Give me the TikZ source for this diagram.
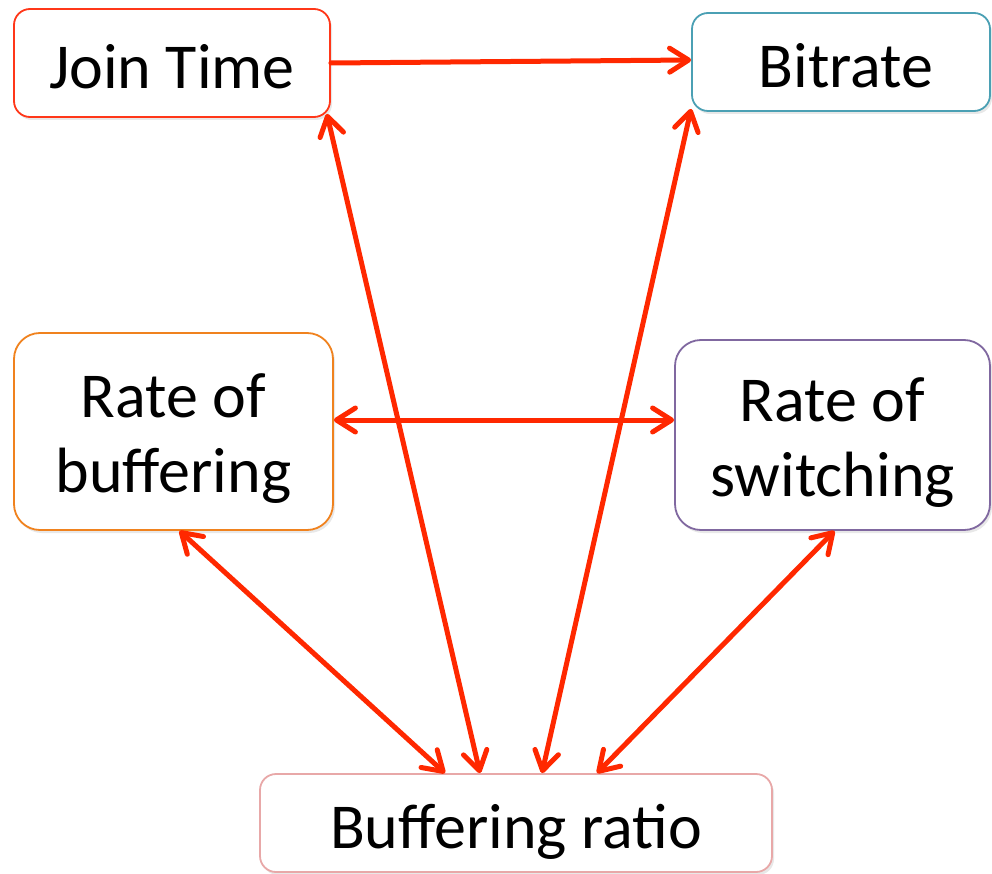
\documentclass[tikz,border=0pt]{standalone}
\usepackage{fontspec}
\setmainfont{Carlito}
\usetikzlibrary{arrows.meta,shadows}
\definecolor{arrred}{RGB}{255,40,0}
\definecolor{jtcol}{RGB}{255,55,25}
\definecolor{brcol}{RGB}{75,160,180}
\definecolor{rbcol}{RGB}{240,130,30}
\definecolor{rscol}{RGB}{128,104,160}
\definecolor{bqcol}{RGB}{232,168,168}
\newcommand{\twolines}[2]{\raisebox{14pt}[0pt][0pt]{\begin{tabular}[t]{@{}c@{}}#1\\#2\end{tabular}}}
\tikzset{
  box/.style={draw, line width=1.8pt, fill=white, rounded corners=16pt, inner sep=0pt,
    align=center, font=\fontsize{64}{75}\selectfont,
    drop shadow={opacity=0.18, shadow xshift=2pt, shadow yshift=-3pt}},
  oneline/.style={text height=51pt, text depth=0pt},
  conn/.style={draw=arrred, line width=5pt, line cap=round},
  tip/.style={-{Straight Barb[length=19pt,width=24pt,line width=5pt,round]}},
  tips/.style={{Straight Barb[length=19pt,width=24pt,line width=5pt,round]}-{Straight Barb[length=19pt,width=24pt,line width=5pt,round]}}
}
\begin{document}
\begin{tikzpicture}[x=1pt,y=-1pt]
\useasboundingbox (0,0) rectangle (992,874);
\node[box, oneline, draw=jtcol, minimum width=316pt, minimum height=108pt] (jt) at (172,63) {Join Time};
\node[box, oneline, draw=brcol, minimum width=298pt, minimum height=98pt] (bt) at (841,62) {\hspace{10pt}Bitrate};
\node[box, draw=rbcol, minimum width=319pt, minimum height=197pt, rounded corners=26pt] (rb) at (173.5,431.5) {\twolines{Rate of}{buffering}};
\node[box, draw=rscol, minimum width=315pt, minimum height=190pt, rounded corners=26pt] (rs) at (832.5,435) {\twolines{Rate of}{switching}};
\node[box, oneline, draw=bqcol, minimum width=512pt, minimum height=98pt] (bq) at (516,823) {Buffering ratio};

\draw[conn, tip] (jt.east) -- ([yshift=2pt]bt.west);
\draw[conn, tips] ([xshift=-4pt,yshift=4pt]jt.south east) -- ([xshift=-36pt]bq.north);
\draw[conn, tips] ([yshift=3pt]bt.south west) -- ([xshift=26pt]bq.north);
\draw[conn, tips] ([yshift=11.5pt]rb.east) -- ([yshift=15pt]rs.west);
\draw[conn, tips] ([xshift=6pt]rb.south) -- ([xshift=-71pt]bq.north);
\draw[conn, tips] ([xshift=2pt]rs.south) -- ([xshift=81pt]bq.north);
\end{tikzpicture}
\end{document}
